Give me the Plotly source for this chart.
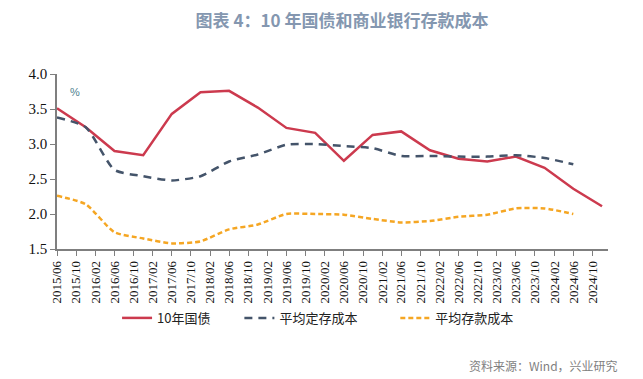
import plotly.graph_objects as go

dates = ["2015-06", "2015-12", "2016-06", "2016-12", "2017-06", "2017-12",
         "2018-06", "2018-12", "2019-06", "2019-12", "2020-06", "2020-12",
         "2021-06", "2021-12", "2022-06", "2022-12", "2023-06", "2023-12",
         "2024-06", "2024-12"]
cgb10y = [3.51, 3.24, 2.90, 2.84, 3.43, 3.74, 3.76, 3.52, 3.23, 3.16,
          2.76, 3.13, 3.18, 2.91, 2.79, 2.75, 2.82, 2.66, 2.36, 2.11]
time_dep_cost = [3.38, 3.24, 2.63, 2.54, 2.48, 2.54, 2.75, 2.85, 2.99, 3.00,
                 2.97, 2.94, 2.83, 2.83, 2.82, 2.82, 2.84, 2.80, 2.71]
dep_cost = [2.26, 2.14, 1.74, 1.65, 1.58, 1.61, 1.78, 1.85, 2.00, 2.00,
            1.99, 1.93, 1.88, 1.90, 1.96, 1.99, 2.08, 2.08, 2.00]
names = ["10年国债", "平均定存成本", "平均存款成本"]

x = [d + "-01" for d in dates]
serif = "Liberation Serif, Times New Roman, serif"
cjk = "Noto Sans CJK SC"

fig = go.Figure()
fig.add_trace(go.Scatter(x=x, y=cgb10y, name=names[0], mode="lines", legend="legend",
                         line=dict(color="#cc3a4e", width=2.5)))
fig.add_trace(go.Scatter(x=x[:len(time_dep_cost)], y=time_dep_cost, name=names[1],
                         mode="lines", legend="legend2",
                         line=dict(color="#44546a", width=2.5, dash="8px,6px",
                                   shape="spline", smoothing=0.6)))
fig.add_trace(go.Scatter(x=x[:len(dep_cost)], y=dep_cost, name=names[2],
                         mode="lines", legend="legend3",
                         line=dict(color="#f5a623", width=2.5, dash="5px,3px",
                                   shape="spline", smoothing=0.6)))

leg_common = dict(orientation="h", xanchor="left", y=-0.394, yanchor="middle",
                  font=dict(family=cjk, size=13, color="#222222"),
                  bgcolor="rgba(0,0,0,0)", borderwidth=0)

fig.update_layout(
    width=635, height=371,
    margin=dict(l=49, r=35, t=66, b=130),
    paper_bgcolor="white", plot_bgcolor="white",
    title=dict(text="<b>图表 4：10 年国债和商业银行存款成本</b>",
               x=0.526, xanchor="center", y=0.966, yanchor="middle",
               font=dict(family=cjk, size=17, color="#8497b0")),
    showlegend=True,
    legend=dict(x=0.109, **leg_common),
    legend2=dict(x=0.331, **leg_common),
    legend3=dict(x=0.614, **leg_common),
    xaxis=dict(type="date", range=["2015-06-01", "2025-01-08"],
               tick0="2015-06-01", dtick="M4", tickformat="%Y/%m",
               tickangle=-90, showgrid=False, zeroline=False,
               showline=True, linecolor="#7f7f7f", linewidth=1.5,
               ticks="outside", ticklen=5, tickcolor="#7f7f7f",
               tickfont=dict(family=serif, size=13, color="#111111")),
    yaxis=dict(range=[1.5, 4.0], dtick=0.5, tickformat=".1f",
               showgrid=False, zeroline=False,
               showline=True, linecolor="#7f7f7f", linewidth=1.5,
               ticks="outside", ticklen=5, tickcolor="#7f7f7f",
               tickfont=dict(family=serif, size=15, color="#111111")),
    annotations=[
        dict(text="%", xref="paper", yref="paper", x=0.02, y=0.9, xanchor="left",
             yanchor="middle", showarrow=False,
             font=dict(family="Liberation Sans", size=11, color="#4f7f8f")),
        dict(text="资料来源：Wind，兴业研究", xref="paper", yref="paper",
             x=1.022, y=-0.663, xanchor="right", yanchor="middle", showarrow=False,
             font=dict(family=cjk, size=12, color="#7f7f7f")),
    ],
)

fig.write_html("out.html")
